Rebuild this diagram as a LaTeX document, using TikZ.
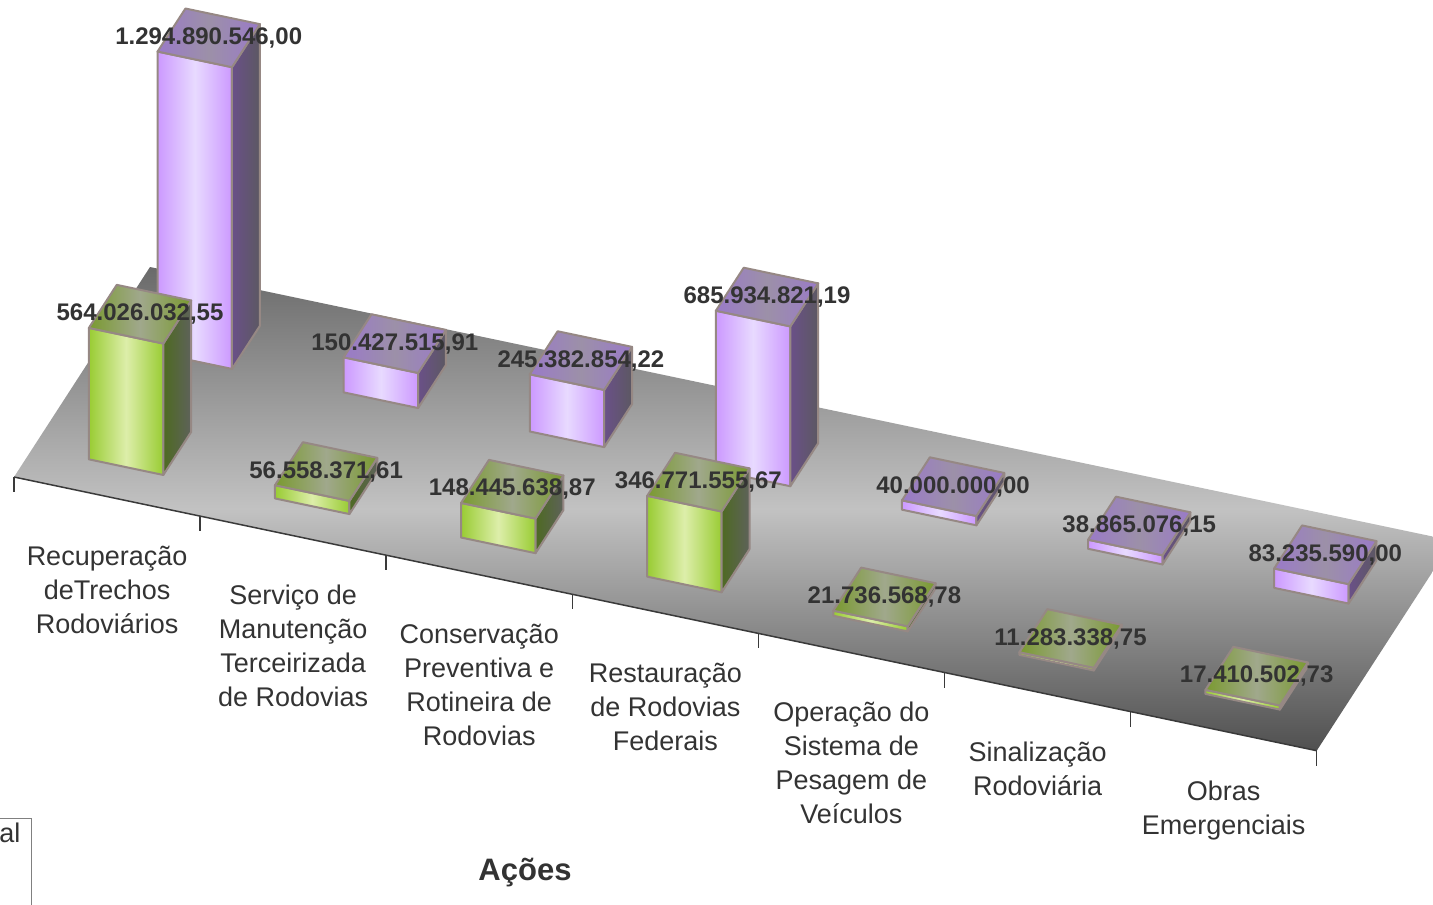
\documentclass[tikz,border=0pt]{standalone}
\usepackage{fontspec}
\setmainfont{Liberation Sans}
\definecolor{lilas}{HTML}{CC99FF}
\definecolor{lilasclaro}{HTML}{E8DAFF}
\definecolor{lilastopo}{HTML}{9A7AC8}
\definecolor{lilastopomeio}{HTML}{9C90A8}
\definecolor{lilaslado}{HTML}{6A5088}
\definecolor{lilasladocinza}{HTML}{5C5862}
\definecolor{verde}{HTML}{99CC33}
\definecolor{verdeclaro}{HTML}{DDEEAA}
\definecolor{verdetopo}{HTML}{7A9A30}
\definecolor{verdetopomeio}{HTML}{A0A88C}
\definecolor{verdelado}{HTML}{4E6A22}
\definecolor{verdeladocinza}{HTML}{5E625A}
\definecolor{bordabarra}{HTML}{968884}
\definecolor{texto}{HTML}{333333}
\definecolor{pisoescuro}{HTML}{6A6A6A}
\definecolor{pisoclaro}{HTML}{C2C2C2}
\definecolor{pisofrente}{HTML}{505050}
\definecolor{linhaeixo}{HTML}{3A3A3A}

\begin{document}
\begin{tikzpicture}[x=0.5pt,y=-0.5pt]
 \tikzstyle{face}=[draw=bordabarra,line width=1pt,line join=round]
 \tikzstyle{valor}=[font=\bfseries\fontsize{12}{14}\selectfont,text=texto,inner sep=0pt]
 \tikzstyle{acao}=[font=\fontsize{13.5}{17}\selectfont,text=texto,align=center,
 anchor=north,inner sep=0pt,yshift=-24.5pt]
 \tikzstyle{eixo}=[draw=linhaeixo,line width=0.75pt]
\useasboundingbox (0,0) rectangle (1433,904);
\clip (0,0) rectangle (1433,904);
\begin{scope}[shift={(14,477)},x={(93.05pt,-19.55pt)},y={(68pt,105pt)},
 z={(0pt,0.1165pt)}]
\path[top color=pisoescuro,bottom color=pisofrente,middle color=pisoclaro]
 (0,0) -- (7,0) -- (7,1) -- (0,1) -- cycle;
\draw[eixo] (0,0) -- (7,0);
\foreach \k in {0,...,7} \draw[eixo] (\k,0) -- ++(0pt,-7.5pt);
\foreach \u/\h/\rot in {0/1294.89/{1.294.890.546,00},1/150.43/{150.427.515,91},
 2/245.38/{245.382.854,22},3/685.93/{685.934.821,19},4/40/{40.000.000,00},
 5/38.87/{38.865.076,15},6/83.24/{83.235.590,00}}{
 \path[face,left color=lilas,right color=lilas,middle color=lilasclaro]
  (\u+0.3,0.645,0) -- (\u+0.7,0.645,0) -- (\u+0.7,0.645,\h) -- (\u+0.3,0.645,\h) -- cycle;
 \path[face,left color=lilaslado,right color=lilasladocinza]
  (\u+0.7,0.645,0) -- (\u+0.7,0.85,0) -- (\u+0.7,0.85,\h) -- (\u+0.7,0.645,\h) -- cycle;
 \path[face,left color=lilastopo,right color=lilastopo,middle color=lilastopomeio]
  (\u+0.3,0.645,\h) -- (\u+0.7,0.645,\h) -- (\u+0.7,0.85,\h) -- (\u+0.3,0.85,\h) -- cycle;
 \node[valor] (lil\u) at (\u+0.5,0.7475,\h) {\rot};
}
\foreach \u/\h/\rot in {0/564.03/{564.026.032,55},1/56.56/{56.558.371,61},
 2/148.45/{148.445.638,87},3/346.77/{346.771.555,67},4/21.74/{21.736.568,78},
 5/11.28/{11.283.338,75},6/17.41/{17.410.502,73}}{
 \path[face,left color=verde,right color=verde,middle color=verdeclaro]
  (\u+0.3,0.14,0) -- (\u+0.7,0.14,0) -- (\u+0.7,0.14,\h) -- (\u+0.3,0.14,\h) -- cycle;
 \path[face,left color=verdelado,right color=verdeladocinza]
  (\u+0.7,0.14,0) -- (\u+0.7,0.345,0) -- (\u+0.7,0.345,\h) -- (\u+0.7,0.14,\h) -- cycle;
 \path[face,left color=verdetopo,right color=verdetopo,middle color=verdetopomeio]
  (\u+0.3,0.14,\h) -- (\u+0.7,0.14,\h) -- (\u+0.7,0.345,\h) -- (\u+0.3,0.345,\h) -- cycle;
 \node[valor] (ver\u) at (\u+0.5,0.2425,\h) {\rot};
}
\node[acao] (cat0) at (0.5,0) {Recuperação\\deTrechos\\Rodoviários};
\node[acao] (cat1) at (1.5,0) {Serviço de\\Manutenção\\Terceirizada\\de Rodovias};
\node[acao] (cat2) at (2.5,0) {Conservação\\Preventiva e\\Rotineira de\\Rodovias};
\node[acao] (cat3) at (3.5,0) {Restauração\\de Rodovias\\Federais};
\node[acao] (cat4) at (4.5,0) {Operação do\\Sistema de\\Pesagem de\\Veículos};
\node[acao] (cat5) at (5.5,0) {Sinalização\\Rodoviária};
\node[acao] (cat6) at (6.5,0) {Obras\\Emergenciais};
\end{scope}
\node[font=\bfseries\fontsize{15.5}{18}\selectfont,text=texto] (titulo) at (525,873) {Ações};
\draw[draw=gray,line width=0.5pt] (-20,818) rectangle (31,940);
\node[font=\fontsize{13.5}{17}\selectfont,text=texto,anchor=west,inner sep=0pt]
 (legenda) at (-1,833) {al};
\end{tikzpicture}
\end{document}
